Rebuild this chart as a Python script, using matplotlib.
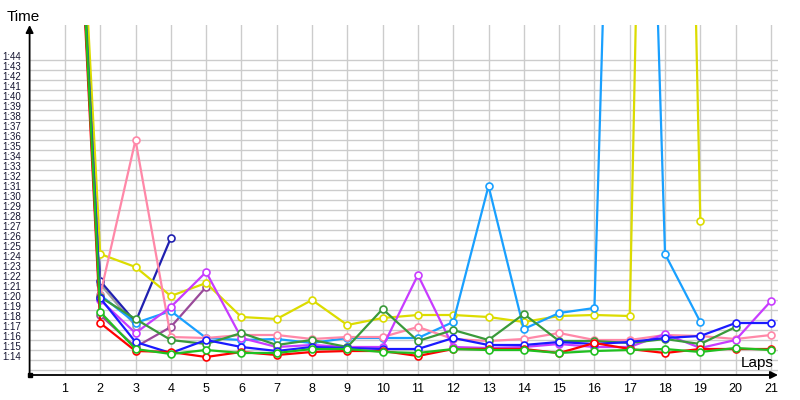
import numpy as np
import matplotlib
matplotlib.use("Agg")
import matplotlib.pyplot as plt

# lap numbers and lap times in seconds (first lap is off the top of the chart)
laps = list(range(1, 22))

red = [148, 77.7, 74.9, 74.8, 74.3, 74.8, 74.5, 74.8, 74.9, 74.9, 74.4, 75.1, 75.1, 75.1, 74.7, 75.7, 75.1, 74.7, 75.1, 75.1, 75.1]
green = [149, 78.8, 75.1, 74.6, 75.0, 74.7, 74.7, 75.1, 75.1, 74.8, 74.7, 75.1, 75.0, 75.0, 74.7, 74.9, 75.0, 75.1, 74.8, 75.2, 75.0]
dark_green = [150, 80.3, 78.1, 76.0, 75.6, 76.7, 75.5, 76.0, 75.3, 79.1, 75.9, 77.0, 76.0, 78.6, 75.9, 75.9, 75.7, 76.1, 75.6, 77.3]
blue = [147, 80.2, 75.8, 74.7, 76.0, 75.3, 74.9, 75.3, 75.2, 75.1, 75.1, 76.2, 75.5, 75.5, 75.8, 75.6, 75.8, 76.2, 76.4, 77.7, 77.7]
navy = [149, 81.9, 77.8, 86.2]
magenta = [148, 80.0, 76.7, 79.3, 82.8, 76.2, 75.3, 75.5, 75.3, 75.3, 82.5, 75.3, 75.2, 75.3, 75.6, 75.3, 75.3, 76.6, 75.2, 76.0, 79.9]
purple = [150, 78.5, 75.3, 77.3, 81.3]
pink = [149, 80.5, 96.0, 76.3, 76.2, 76.5, 76.5, 76.1, 76.3, 76.3, 77.3, 76.1, 75.9, 76.1, 76.7, 76.0, 76.0, 76.5, 76.4, 76.1, 76.5]
light_blue = [147, 80.5, 77.7, 78.9, 76.2, 76.0, 76.1, 75.7, 76.2, 76.2, 76.2, 77.8, 91.4, 77.1, 78.7, 79.2, 200, 84.6, 77.8]
yellow = [152, 84.6, 83.3, 80.4, 81.7, 78.3, 78.1, 80.0, 77.5, 78.2, 78.5, 78.5, 78.3, 77.8, 78.4, 78.5, 78.4, 250, 87.9]
gray = [150, 81.6, 77.4]

# y grid: one line per second, labels from 1:14 to 1:44
grid_secs = list(range(73, 105))
label_secs = list(range(74, 105))

series = [
    (gray, "#a0a0a0"),
    (navy, "#2020b0"),
    (purple, "#9a4a9a"),
    (yellow, "#dcdc00"),
    (light_blue, "#19a0ff"),
    (pink, "#ff88a8"),
    (magenta, "#c83cff"),
    (dark_green, "#3a9a3a"),
    (blue, "#1a1aff"),
    (red, "#ff0000"),
    (green, "#20c020"),
]

fig = plt.figure(figsize=(8, 4), dpi=100)
ax = fig.add_axes([0.037, 0.0625, 0.9355, 0.875])

for vals, col in series:
    ax.plot(laps[:len(vals)], vals, color=col, lw=1.6, marker="o", ms=5,
            mfc="white", mec=col, mew=1.2, zorder=3)

ax.set_xlim(0, 21.2)
ax.set_ylim(72.5, 107.5)

ax.set_xticks(laps)
ax.set_xticklabels([str(l) for l in laps], fontsize=9, family="Liberation Sans")
ax.set_yticks(grid_secs)
ax.set_yticklabels(["%d:%02d" % (s // 60, s % 60) if s in label_secs else "" for s in grid_secs],
                   fontsize=7, family="Liberation Sans", color="#141430")
for t in ax.get_yticklabels():
    t.set_va("baseline")
ax.tick_params(length=0)
ax.tick_params(axis="x", pad=6)
ax.tick_params(axis="y", pad=6)

ax.grid(True, color="#cccccc", lw=1)
ax.set_axisbelow(True)
for s in ax.spines.values():
    s.set_visible(False)

# axes with arrows
ax.annotate("", xy=(0, 1), xytext=(0, 0), xycoords="axes fraction",
            arrowprops=dict(arrowstyle="-|>", color="black", lw=1.3, mutation_scale=11, shrinkA=0, shrinkB=0))
ax.annotate("", xy=(1, 0), xytext=(0, 0), xycoords="axes fraction",
            arrowprops=dict(arrowstyle="-|>", color="black", lw=1.3, mutation_scale=11, shrinkA=0, shrinkB=0))
ax.plot([0], [0], marker="s", ms=3.5, color="black", transform=ax.transAxes, clip_on=False, zorder=5)

fig.text(7 / 800, 1 - 21 / 400, "Time", fontsize=11, family="Liberation Sans", va="baseline", ha="left")
fig.text(774 / 800, 1 - 367 / 400, "Laps", fontsize=11, family="Liberation Sans", va="baseline", ha="right")

fig.savefig("out.png", dpi=100)
